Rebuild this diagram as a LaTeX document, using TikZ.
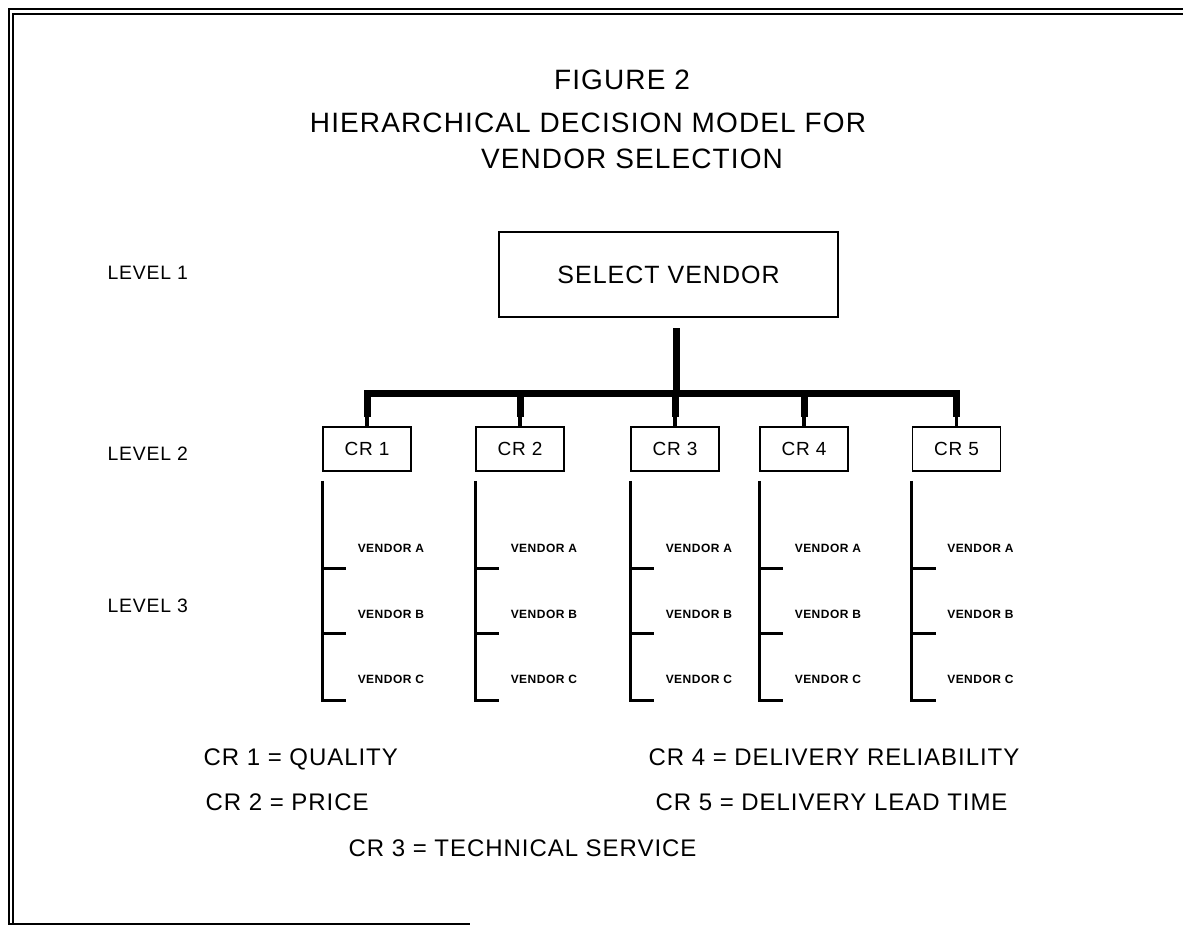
\documentclass[tikz,border=0pt]{standalone}
\usepackage{fontspec}
\setmainfont{Liberation Sans}[LetterSpace=4]
\usepackage{tikz}

\tikzset{
  frame/.style={line width=1pt},
  topbox/.style={draw,line width=0.8pt,minimum width=169.5pt,minimum height=42.5pt,inner sep=0pt,font=\fontsize{12.5}{14}\selectfont},
  crbox/.style={draw,line width=0.8pt,minimum width=44pt,minimum height=22pt,inner sep=0pt,font=\fontsize{9.5}{11}\selectfont},
  bus/.style={line width=3.5pt},
  stem/.style={line width=1.6pt},
  brk/.style={line width=1.5pt},
  vend/.style={anchor=base west,inner sep=0pt,font=\fontsize{6}{7}\selectfont\bfseries},
  lvl/.style={anchor=base west,inner sep=0pt,font=\fontsize{9.7}{12}\selectfont},
  legend/.style={anchor=base west,inner sep=0pt,font=\fontsize{12}{14}\selectfont},
  heading/.style={anchor=base,inner sep=0pt,font=\fontsize{14}{16}\selectfont}
}

\begin{document}
\begin{tikzpicture}[x=0.5pt,y=-0.5pt,line width=0.2mm]
\useasboundingbox (0,0) rectangle (1183,926);

% double border (cut at right and bottom)
\draw[frame] (1183,9) -- (9,9) -- (9,924) -- (470,924);
\draw[frame] (1183,14) -- (13,14) -- (13,924);

% title
\node[heading] (fig) at (622,89) {FIGURE 2};
\node[heading] (tl1) at (588,132) {HIERARCHICAL DECISION MODEL FOR};
\node[heading] (tl2) at (632,168) {VENDOR SELECTION};

% levels
\node[lvl] (lv1) at (107,279.5) {LEVEL 1};
\node[lvl] (lv2) at (107,460.5) {LEVEL 2};
\node[lvl] (lv3) at (107,612.5) {LEVEL 3};

% level 1 and level 2 boxes
\node[topbox] (sel) at (668.5,274.5) {SELECT VENDOR};
\node[crbox] (cr1) at (367,449) {CR 1};
\node[crbox] (cr2) at (520,449) {CR 2};
\node[crbox] (cr3) at (675,449) {CR 3};
\node[crbox] (cr4) at (804,449) {CR 4};
\node[crbox] (cr5) at (956.5,449) {CR 5};

% trunk and bus
\coordinate (top) at (676,328);
\coordinate (hub) at (676,393);
\draw[bus] (top) -- (hub);
\draw[bus,line join=miter] (cr1.north |- hub) ++(0,24) -- (cr1.north |- hub) -- (cr5.north |- hub) -- ++(0,24);
\draw[stem] (cr1.north |- hub) -- (cr1.north);
\draw[stem] (cr2.north |- hub) -- (cr2.north);
\draw[stem] (cr3.north |- hub) -- (cr3.north);
\draw[stem] (cr4.north |- hub) -- (cr4.north);
\draw[stem] (cr5.north |- hub) -- (cr5.north);
\draw[bus] (cr2.north |- hub) -- ++(0,24);
\draw[bus] (cr3.north |- hub) -- ++(0,24);
\draw[bus] (cr4.north |- hub) -- ++(0,24);

% level 3 brackets
\draw[brk] (cr1.south west) ++(0,9) -- ++(0,220) -- ++(24,0) (cr1.south west) ++(0,97) -- ++(24,0) (cr1.south west) ++(0,162) -- ++(24,0);
\draw[brk] (cr2.south west) ++(0,9) -- ++(0,220) -- ++(24,0) (cr2.south west) ++(0,97) -- ++(24,0) (cr2.south west) ++(0,162) -- ++(24,0);
\draw[brk] (cr3.south west) ++(0,9) -- ++(0,220) -- ++(24,0) (cr3.south west) ++(0,97) -- ++(24,0) (cr3.south west) ++(0,162) -- ++(24,0);
\draw[brk] (cr4.south west) ++(0,9) -- ++(0,220) -- ++(24,0) (cr4.south west) ++(0,97) -- ++(24,0) (cr4.south west) ++(0,162) -- ++(24,0);
\draw[brk] (cr5.south west) ++(0,9) -- ++(0,220) -- ++(24,0) (cr5.south west) ++(0,97) -- ++(24,0) (cr5.south west) ++(0,162) -- ++(24,0);

\path (cr1.south west) ++(35,81) node[vend] (va1) {VENDOR A} ++(0,66) node[vend] (vb1) {VENDOR B} ++(0,65) node[vend] (vc1) {VENDOR C};
\path (cr2.south west) ++(35,81) node[vend] (va2) {VENDOR A} ++(0,66) node[vend] (vb2) {VENDOR B} ++(0,65) node[vend] (vc2) {VENDOR C};
\path (cr3.south west) ++(35,81) node[vend] (va3) {VENDOR A} ++(0,66) node[vend] (vb3) {VENDOR B} ++(0,65) node[vend] (vc3) {VENDOR C};
\path (cr4.south west) ++(35,81) node[vend] (va4) {VENDOR A} ++(0,66) node[vend] (vb4) {VENDOR B} ++(0,65) node[vend] (vc4) {VENDOR C};
\path (cr5.south west) ++(35,81) node[vend] (va5) {VENDOR A} ++(0,66) node[vend] (vb5) {VENDOR B} ++(0,65) node[vend] (vc5) {VENDOR C};

% legend
\node[legend] (lg1) at (203,765.5) {CR 1 = QUALITY};
\node[legend] (lg2) at (205,810.5) {CR 2 = PRICE};
\node[legend] (lg3) at (348,856.5) {CR 3 = TECHNICAL SERVICE};
\node[legend] (lg4) at (648,765.5) {CR 4 = DELIVERY RELIABILITY};
\node[legend] (lg5) at (655,810.5) {CR 5 = DELIVERY LEAD TIME};
\end{tikzpicture}
\end{document}
